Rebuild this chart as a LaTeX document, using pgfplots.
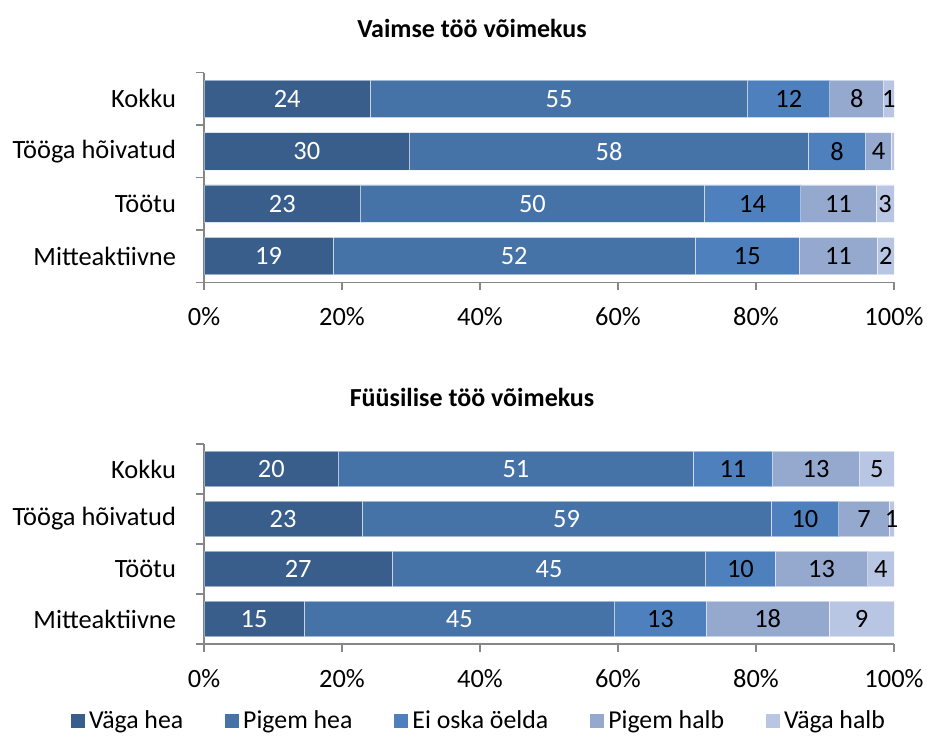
\documentclass[border=0pt]{standalone}
\usepackage{fontspec}
\setmainfont{Carlito}
\usepackage{pgfplots}
\usepackage{pgfplotstable}
\pgfplotsset{compat=1.18}
\definecolor{c1}{HTML}{3A5E8C}
\definecolor{c2}{HTML}{4572A7}
\definecolor{c3}{HTML}{4E80BD}
\definecolor{c4}{HTML}{95A9CF}
\definecolor{c5}{HTML}{B9C6E3}
\definecolor{axisgray}{HTML}{868686}

\pgfplotstableread{
y a b c d e la lb lc ld le
0 18.7 52.5 15.1 11.3 2.4 19 52 15 11 2
1 22.7 49.8 14.0 10.9 2.6 23 50 14 11 3
2 29.8 57.8 8.3 3.7 0.4 30 58 8 4 {}
3 24.1 54.7 11.9 7.8 1.5 24 55 12 8 1
}\topdata

\pgfplotstableread{
y a b c d e la lb lc ld le
0 14.5 45.0 13.3 17.8 9.4 15 45 13 18 9
1 27.3 45.4 10.1 13.4 3.8 27 45 10 13 4
2 22.9 59.3 9.8 7.3 0.7 23 59 10 7 1
3 19.5 51.4 11.5 12.6 5.0 20 51 11 13 5
}\botdata

\pgfplotsset{
  mystyle/.style={
    xbar stacked, scale only axis, width=345pt,
    xmin=0, xmax=100, ymin=-0.5, ymax=3.5,
    bar width=0.715,
    axis x line*=bottom, axis y line*=left,
    axis line style={axisgray, line width=0.7pt},
    xtick={0,20,40,60,80,100},
    xticklabels={0\%,20\%,40\%,60\%,80\%,100\%},
    ytick={0,1,2,3},
    yticklabels={Mitteaktiivne,Töötu,Tööga hõivatud,Kokku},
    minor ytick={-0.5,0.5,1.5,2.5,3.5},
    tick align=outside, major tick length=4pt, minor tick length=4pt,
    tick style={axisgray, line width=0.7pt},
    major y tick style={draw=none},
    tick label style={font=\fontsize{13.2}{15}\selectfont, text=black},
    xticklabel style={yshift=-5pt},
    yticklabel style={xshift=-6.5pt},
    /pgf/number format/assume math mode=true,
    legend image code/.code={\fill[##1, draw=none] (0pt,-3.5pt) rectangle (7pt,3.5pt);},
  },
  seg/.style n args={2}{
    fill=#1, draw=white, draw opacity=0.5, line width=0.4pt,
    nodes near coords, point meta=explicit symbolic,
    every node near coord/.style={anchor=center, text=#2,
      font=\fontsize{13.2}{15}\selectfont},
  },
}

\begin{document}
\begin{tikzpicture}
\path[use as bounding box] (0,0) rectangle (463.5pt,-373.5pt);
\node[font=\bfseries\fontsize{13}{15}\selectfont] at (236pt,-14pt) {Vaimse töö võimekus};
\node[font=\bfseries\fontsize{13}{15}\selectfont] at (236pt,-198.5pt) {Füüsilise töö võimekus};

\begin{axis}[mystyle, height=104.8pt, at={(102pt,-141.15pt)}, anchor=south west]
\addplot[seg={c1}{white}] table[x=a,y=y,meta=la]{\topdata};
\addplot[seg={c2}{white}] table[x=b,y=y,meta=lb]{\topdata};
\addplot[seg={c3}{black}] table[x=c,y=y,meta=lc]{\topdata};
\addplot[seg={c4}{black}] table[x=d,y=y,meta=ld]{\topdata};
\addplot[seg={c5}{black}] table[x=e,y=y,meta=le]{\topdata};
\end{axis}

\begin{axis}[mystyle, height=100pt, at={(102pt,-322pt)}, anchor=south west,
  legend columns=5,
  legend style={draw=none, at={(0.4,-0.385)}, anchor=center,
    font=\fontsize{12.9}{15}\selectfont,
    /tikz/every even column/.append style={column sep=19pt}}]
\addplot[seg={c1}{white}] table[x=a,y=y,meta=la]{\botdata};
\addplot[seg={c2}{white}] table[x=b,y=y,meta=lb]{\botdata};
\addplot[seg={c3}{black}] table[x=c,y=y,meta=lc]{\botdata};
\addplot[seg={c4}{black}] table[x=d,y=y,meta=ld]{\botdata};
\addplot[seg={c5}{black}] table[x=e,y=y,meta=le]{\botdata};
\legend{Väga hea,Pigem hea,Ei oska öelda,Pigem halb,Väga halb}
\end{axis}
\end{tikzpicture}
\end{document}
